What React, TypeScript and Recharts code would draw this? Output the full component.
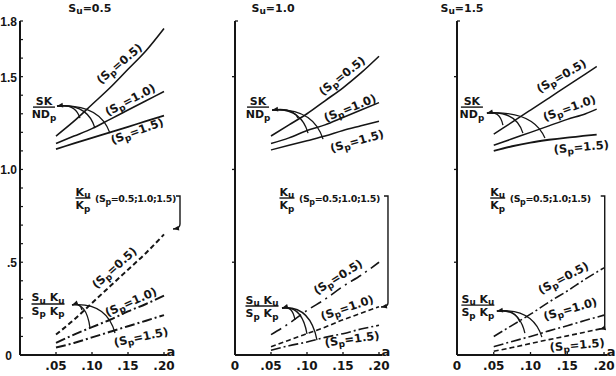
import React from 'react';
import { LineChart, Line, XAxis, YAxis, ReferenceDot } from 'recharts';

const INK = '#151515';
const FONT = '"DejaVu Sans", "Liberation Sans", sans-serif';
const NARROW = '"Liberation Sans", Arial, sans-serif';

// ---- values ----
const A = [0.05, 0.075, 0.1, 0.125, 0.15, 0.175, 0.2];
const A_SHORT = [0.05, 0.075, 0.1, 0.125, 0.15, 0.175, 0.19];

const xTicksFirst = [0.05, 0.1, 0.15, 0.2];
const xTicksRest = [0, 0.05, 0.1, 0.15, 0.2];
const yTicksFine = [0, 0.1, 0.2, 0.3, 0.4, 0.5, 0.6, 0.7, 0.8, 0.9, 1.0, 1.1, 1.2, 1.3, 1.4, 1.5, 1.6, 1.7, 1.8];
const yTicksPlain = [0.5, 1.0, 1.5, 1.8];
const yTickText: Record<number, string> = { 0: '0', 5: '.5', 10: '1.0', 15: '1.5', 18: '1.8' };

// Su = 0.5
const su05SkSp05 = [1.18, 1.26, 1.35, 1.44, 1.54, 1.64, 1.76];
const su05SkSp10 = [1.14, 1.18, 1.22, 1.27, 1.32, 1.37, 1.42];
const su05SkSp15 = [1.11, 1.14, 1.17, 1.2, 1.23, 1.26, 1.29];
const su05KuSp05 = [0.11, 0.19, 0.28, 0.37, 0.46, 0.55, 0.65];
const su05KuSp10 = [0.065, 0.11, 0.15, 0.19, 0.235, 0.275, 0.32];
const su05KuSp15 = [0.04, 0.065, 0.095, 0.125, 0.155, 0.185, 0.215];

// Su = 1.0
const su10SkSp05 = [1.18, 1.24, 1.3, 1.37, 1.44, 1.52, 1.61];
const su10SkSp10 = [1.14, 1.17, 1.21, 1.24, 1.28, 1.32, 1.36];
const su10SkSp15 = [1.105, 1.13, 1.155, 1.18, 1.21, 1.235, 1.26];
const su10KuSp05 = [0.11, 0.17, 0.24, 0.3, 0.37, 0.43, 0.5];
const su10KuSp10 = [0.045, 0.08, 0.115, 0.15, 0.19, 0.225, 0.26];
const su10KuSp15 = [0.025, 0.05, 0.07, 0.095, 0.115, 0.14, 0.16];

// Su = 1.5
const su15SkSp05 = [1.19, 1.255, 1.32, 1.385, 1.45, 1.515, 1.555];
const su15SkSp10 = [1.13, 1.165, 1.2, 1.235, 1.27, 1.3, 1.325];
const su15SkSp15 = [1.1, 1.125, 1.145, 1.16, 1.172, 1.182, 1.188];
const su15KuSp05 = [0.1, 0.16, 0.22, 0.285, 0.345, 0.41, 0.47];
const su15KuSp10 = [0.045, 0.073, 0.1, 0.13, 0.158, 0.187, 0.215];
const su15KuSp15 = [0.02, 0.04, 0.062, 0.083, 0.103, 0.124, 0.145];

const rows = (a: number[], v: number[]) => a.map((x, i) => ({ a: x, v: v[i] }));

// text with "_x" subscripts
function rich(s: string, sub: number) {
  const segs: { t: string; sub: boolean }[] = [];
  for (let i = 0; i < s.length; i++) {
    if (s[i] === '_' && i + 1 < s.length) {
      segs.push({ t: s[i + 1], sub: true });
      i++;
    } else {
      const last = segs[segs.length - 1];
      if (last && !last.sub) last.t += s[i];
      else segs.push({ t: s[i], sub: false });
    }
  }
  let low = false;
  return segs.map((g, i) => {
    const dy = g.sub && !low ? 2.5 : !g.sub && low ? -2.5 : 0;
    low = g.sub;
    return (
      <tspan key={i} dy={dy} fontSize={g.sub ? sub : undefined}>
        {g.t}
      </tspan>
    );
  });
}

const txt = { fontFamily: FONT, fontWeight: 700, fill: INK } as const;

function head(x: number, y: number, fx: number, fy: number, s = 5) {
  const ang = Math.atan2(y - fy, x - fx);
  const c = Math.cos(ang), n = Math.sin(ang);
  const bx = x - s * c, by = y - s * n;
  return (
    <polygon
      points={`${x},${y} ${bx + s * 0.4 * n},${by - s * 0.4 * c} ${bx - s * 0.4 * n},${by + s * 0.4 * c}`}
      fill={INK}
    />
  );
}

function frac(x: number, y: number, top: string, bottom: string, w: number, size = 11) {
  return (
    <g>
      <text x={x} y={y - 2.5} textAnchor="middle" fontSize={size} {...txt}>{rich(top, size * 0.8)}</text>
      <line x1={x - w / 2} x2={x + w / 2} y1={y} y2={y} stroke={INK} strokeWidth={1.4} />
      <text x={x} y={y + 11} textAnchor="middle" fontSize={size} {...txt}>{rich(bottom, size * 0.8)}</text>
    </g>
  );
}

function arcs(tx: number, ty: number, to: number[][]) {
  return (
    <g>
      {to.map(([dx, dy], i) => {
        const qx = tx + dx * 0.8, qy = ty - 3;
        return (
          <path key={i} d={`M${tx + dx},${ty + dy} Q${qx},${qy} ${tx},${ty}`} fill="none" stroke={INK} strokeWidth={1.3} />
        );
      })}
      {head(tx, ty, tx + to[0][0] * 0.8, ty - 3, 6)}
    </g>
  );
}

const note = (key: string, a: number, v: number, draw: (x: number, y: number) => React.ReactNode) => (
  <ReferenceDot
    key={key}
    x={a}
    y={v}
    r={0}
    ifOverflow="visible"
    shape={(p: any) => <g>{draw(p.cx, p.cy)}</g>}
  />
);

type Curve = { a: number[]; v: number[]; w: number; dash?: string };
type Arrows = { at: number[]; tip: number[]; to: number[][] };
type Panel = {
  key: string;
  title: string;
  x0: number;
  x1: number;
  xTicks: number[];
  fine: boolean;
  curves: Curve[];
  titleAt: number[];
  sk: Arrows;
  ku: { at: number[]; bx: number; by: number; tip: number[] };
  suk: Arrows;
  labels: [number, number, number, string][];
};

const SP05 = '(S_p=0.5)', SP10 = '(S_p=1.0)', SP15 = '(S_p=1.5)';
const DASH = '5 3';
const DASHDOT = '10 3 2 3';

const panels: Panel[] = [
  {
    key: 'p1', title: 'S_u=0.5', x0: 20, x1: 167.6, xTicks: xTicksFirst, fine: true,
    curves: [
      { a: A, v: su05SkSp05, w: 1.6 },
      { a: A, v: su05SkSp10, w: 1.6 },
      { a: A, v: su05SkSp15, w: 1.8 },
      { a: A, v: su05KuSp05, w: 2, dash: DASH },
      { a: A, v: su05KuSp10, w: 2, dash: DASHDOT },
      { a: A, v: su05KuSp15, w: 2, dash: DASHDOT },
    ],
    titleAt: [0.097, 1.85],
    sk: { at: [0.0333, 1.336], tip: [13, -1], to: [[23, 12], [38, 22], [53, 27]] },
    ku: { at: [0.0875, 0.846], bx: 97, by: 26, tip: [90, 31] },
    suk: { at: [0.0389, 0.275], tip: [24, 1], to: [[10, 5], [18, 23], [43, 28]] },
    labels: [
      [0.138, 1.57, -40, SP05], [0.153, 1.375, -28, SP10], [0.1625, 1.207, -20, SP15],
      [0.131, 0.47, -42, SP05], [0.154, 0.286, -24, SP10], [0.168, 0.097, -12, SP15],
    ],
  },
  {
    key: 'p2', title: 'S_u=1.0', x0: 235, x1: 382.6, xTicks: xTicksRest, fine: false,
    curves: [
      { a: A, v: su10SkSp05, w: 1.6 },
      { a: A, v: su10SkSp10, w: 1.5 },
      { a: A, v: su10SkSp15, w: 1.5 },
      { a: A, v: su10KuSp05, w: 1.6, dash: '12 5 2 5' },
      { a: A, v: su10KuSp10, w: 1.6, dash: DASH },
      { a: A, v: su10KuSp15, w: 1.6, dash: DASHDOT },
    ],
    titleAt: [0.0528, 1.85],
    sk: { at: [0.032, 1.336], tip: [14, 3], to: [[26, 8], [36, 23], [51, 29]] },
    ku: { at: [0.0722, 0.846], bx: 101, by: 105, tip: [94, 109] },
    suk: { at: [0.0375, 0.264], tip: [20, 2], to: [[13, 12], [25, 26], [35, 32]] },
    labels: [
      [0.1486, 1.504, -38, SP05], [0.1597, 1.331, -22, SP10], [0.1694, 1.153, -16, SP15],
      [0.143, 0.42, -32, SP05], [0.1556, 0.255, -19, SP10], [0.1625, 0.086, -8, SP15],
    ],
  },
  {
    key: 'p3', title: 'S_u=1.5', x0: 457, x1: 607.7, xTicks: xTicksRest, fine: false,
    curves: [
      { a: A_SHORT, v: su15SkSp05, w: 1.5 },
      { a: A_SHORT, v: su15SkSp10, w: 1.5 },
      { a: A_SHORT, v: su15SkSp15, w: 1.8 },
      { a: A, v: su15KuSp05, w: 1.6, dash: DASHDOT },
      { a: A, v: su15KuSp10, w: 1.6, dash: DASHDOT },
      { a: A, v: su15KuSp15, w: 1.6, dash: DASH },
    ],
    titleAt: [0.0068, 1.85],
    sk: { at: [0.0203, 1.336], tip: [15, 6], to: [[16, 12], [36, 20], [58, 25]] },
    ku: { at: [0.0554, 0.846], bx: 107, by: 127, tip: [102, 131] },
    suk: { at: [0.0284, 0.269], tip: [19, 6], to: [[23, 11], [28, 22], [45, 26]] },
    labels: [
      [0.1419, 1.504, -30, SP05], [0.1527, 1.331, -20, SP10], [0.169, 1.121, -5, SP15],
      [0.1446, 0.415, -28, SP05], [0.154, 0.248, -16, SP10], [0.1635, 0.054, -5, SP15],
    ],
  },
];

const fmtA = (v: number) => (v === 0 ? '0' : '.' + String(Math.round(v * 100)).padStart(2, '0'));

const XTick = (props: any) => {
  const { x, y, payload } = props;
  return (
    <g>
      {payload.value !== 0 && <line x1={x} x2={x} y1={y} y2={y - 3} stroke={INK} strokeWidth={1.3} />}
      <text x={x} y={y + 15} textAnchor="middle" fontSize={12} {...txt}>{fmtA(payload.value)}</text>
    </g>
  );
};

const YTickFine = (props: any) => {
  const { x, y, payload } = props;
  const k = Math.round(payload.value * 10);
  const label = yTickText[k];
  return (
    <g>
      <line x1={x} x2={x + 3} y1={y} y2={y} stroke={INK} strokeWidth={1.2} />
      {label && (
        <text
          x={k === 0 ? x - 8 : x - 3} y={y + 5} textAnchor="end" fontSize={12}
          {...txt} fontFamily={NARROW}
        >
          {label}
        </text>
      )}
    </g>
  );
};

const YTickPlain = (props: any) => {
  const { x, y, payload } = props;
  const top = payload.value === 1.8;
  return <line x1={top ? x : x - 3} x2={top ? x + 3 : x} y1={y} y2={y} stroke={INK} strokeWidth={1.3} />;
};

function PanelChart({ p }: { p: Panel }) {
  const xMax = 0.205;
  return (
    <div style={{ position: 'absolute', left: 0, top: 0 }}>
      <LineChart width={616} height={376} margin={{ top: 21, bottom: 20, left: p.x0 - 1, right: 616 - p.x1 }}>
        <XAxis
          type="number" dataKey="a" domain={[0, xMax]} ticks={p.xTicks} interval={0}
          height={1} tickSize={0} tickMargin={0} tickLine={false} tick={<XTick />}
          axisLine={{ stroke: INK, strokeWidth: 2 }}
        />
        <YAxis
          type="number" domain={[0, 1.8]} ticks={p.fine ? yTicksFine : yTicksPlain} interval={0}
          width={1} tickSize={0} tickMargin={0} tickLine={false}
          tick={p.fine ? <YTickFine /> : <YTickPlain />}
          axisLine={{ stroke: INK, strokeWidth: 2 }}
        />
        {p.curves.map((c, i) => (
          <Line
            key={i} data={rows(c.a, c.v)} dataKey="v" type="monotone" stroke={INK}
            strokeWidth={c.w} strokeDasharray={c.dash} dot={false} activeDot={false}
            isAnimationActive={false}
          />
        ))}
        {note('title', p.titleAt[0], p.titleAt[1], (x, y) => (
          <text x={x} y={y} textAnchor="middle" fontSize={11} {...txt}>{rich(p.title, 9)}</text>
        ))}
        {note('aLabel', xMax, 0, (x, y) => (
          <text x={x - 1} y={y + 1} fontSize={13} {...txt}>a</text>
        ))}
        {note('sk', p.sk.at[0], p.sk.at[1], (x, y) => (
          <g>
            {frac(x, y, 'SK', 'ND_p', 22)}
            {arcs(x + p.sk.tip[0], y + p.sk.tip[1], p.sk.to)}
          </g>
        ))}
        {note('ku', p.ku.at[0], p.ku.at[1], (x, y) => {
          const bx = x + p.ku.bx, tx = x + p.ku.tip[0], ty = y + p.ku.tip[1];
          return (
            <g>
              {frac(x, y, 'K_u', 'K_p', 15)}
              <text x={x + 12} y={y + 4} fontSize={9.5} letterSpacing={-0.4} {...txt}>
                {rich('(S_p=0.5;1.0;1.5)', 8)}
              </text>
              <path
                d={`M${bx - 4},${y - 2} H${bx} V${y + p.ku.by} Q${bx},${ty} ${tx},${ty}`}
                fill="none" stroke={INK} strokeWidth={1.4}
              />
              {head(tx, ty, bx, ty - 1, 6)}
            </g>
          );
        })}
        {note('suk', p.suk.at[0], p.suk.at[1], (x, y) => (
          <g>
            {frac(x, y, 'S_u K_u', 'S_p K_p', 33)}
            {arcs(x + p.suk.tip[0], y + p.suk.tip[1], p.suk.to)}
          </g>
        ))}
        {p.labels.map(([a, v, ang, s], i) =>
          note('lab' + i, a, v, (x, y) => (
            <text
              transform={`translate(${x},${y}) rotate(${ang})`} y={4} textAnchor="middle"
              fontSize={11.5} {...txt}
            >
              {rich(s, 9)}
            </text>
          )),
        )}
      </LineChart>
    </div>
  );
}

export default function App() {
  return (
    <div style={{ position: 'absolute', left: 0, top: 0, width: 616, height: 376, background: '#fff', overflow: 'hidden' }}>
      {panels.map((p) => (
        <PanelChart key={p.key} p={p} />
      ))}
    </div>
  );
}
